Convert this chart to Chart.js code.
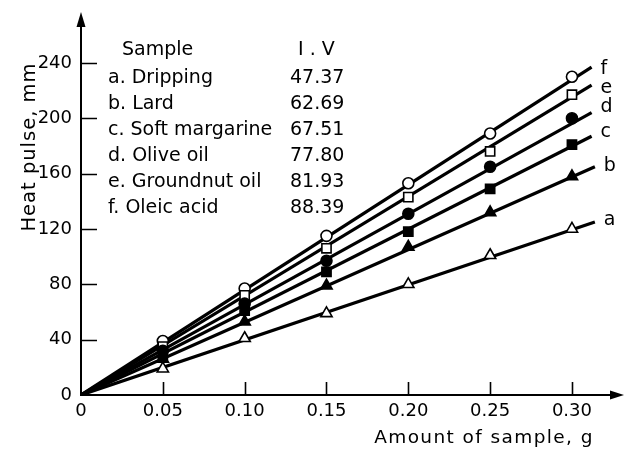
<!DOCTYPE html>
<html>
<head>
<meta charset="utf-8">
<script src="https://cdn.jsdelivr.net/npm/chart.js@4.4.0/dist/chart.umd.min.js"></script>
<style>
  html, body { margin: 0; background: #fff; }
  canvas { display: block; }
</style>
</head>
<body>
<canvas id="chart" width="626" height="452"></canvas>
<script>
const amounts = [0.05, 0.10, 0.15, 0.20, 0.25, 0.30]
const letters = ['a', 'b', 'c', 'd', 'e', 'f']
const samples = ['Dripping', 'Lard', 'Soft margarine', 'Olive oil', 'Groundnut oil', 'Oleic acid']
const iodineValues = ['47.37', '62.69', '67.51', '77.80', '81.93', '88.39']

// heat pulse (mm) read at each amount of sample
const dripping = [19, 41, 59, 80, 101, 120]
const lard = [26, 53, 79, 107, 132, 158]
const softMargarine = [29, 61, 89, 118, 149, 181]
const oliveOil = [32, 66, 97, 131, 165, 200]
const groundnutOil = [35, 72, 106, 143, 176, 217]
const oleicAcid = [39, 77, 115, 153, 189, 230]

// the drawn lines are straight fits from the origin to these ends
const lineEndX = [0.314, 0.314, 0.312, 0.312, 0.312, 0.312]
const lineEndY = [125, 165, 187, 204, 224, 237]

const xTicks = [0, 0.05, 0.10, 0.15, 0.20, 0.25, 0.30]
const yTicks = [0, 40, 80, 120, 160, 200, 240]

const series = [dripping, lard, softMargarine, oliveOil, groundnutOil, oleicAcid]
const markers = [
  { style: 'triangle', fill: '#fff', r: 6.5 },
  { style: 'triangle', fill: '#000', r: 6.5 },
  { style: 'rect', fill: '#000', r: 6.5 },
  { style: 'circle', fill: '#000', r: 5.5 },
  { style: 'rect', fill: '#fff', r: 6.5 },
  { style: 'circle', fill: '#fff', r: 5.5 },
]
const letterDy = [3, 4, 1, -1, 8, 7]

const FONT = '"DejaVu Sans", sans-serif'

const markerSets = series.map((vals, i) => ({
  label: letters[i],
  data: amounts.map((x, j) => ({ x, y: vals[j] })),
  showLine: false,
  pointStyle: markers[i].style,
  pointRadius: markers[i].r,
  backgroundColor: markers[i].fill,
  borderColor: '#000',
  borderWidth: 1.6,
  order: 0,
}))

const lineSets = series.map((_, i) => ({
  label: letters[i] + ' fit',
  data: [{ x: 0, y: 0 }, { x: lineEndX[i], y: lineEndY[i] }],
  showLine: true,
  pointRadius: 0,
  borderColor: '#000',
  borderWidth: 3.2,
  order: 1,
}))

const decor = {
  id: 'decor',
  afterDraw(chart) {
    const { ctx, chartArea: area, scales: { x, y } } = chart
    ctx.save()
    ctx.fillStyle = '#000'
    ctx.strokeStyle = '#000'

    // inward tick marks
    ctx.lineWidth = 1.6
    ctx.beginPath()
    xTicks.slice(1).forEach(v => {
      const px = Math.round(x.getPixelForValue(v)) + 0.5
      ctx.moveTo(px, area.bottom)
      ctx.lineTo(px, area.bottom - 13)
    })
    yTicks.slice(1).forEach(v => {
      const py = Math.round(y.getPixelForValue(v)) + 0.5
      ctx.moveTo(area.left, py)
      ctx.lineTo(area.left + 16, py)
    })
    ctx.stroke()

    // arrow heads
    ctx.beginPath()
    ctx.moveTo(area.left, 12)
    ctx.lineTo(area.left - 4.5, 27)
    ctx.lineTo(area.left + 4.5, 27)
    ctx.closePath()
    ctx.fill()
    ctx.beginPath()
    ctx.moveTo(624, area.bottom)
    ctx.lineTo(610, area.bottom - 4.5)
    ctx.lineTo(610, area.bottom + 4.5)
    ctx.closePath()
    ctx.fill()

    // axis titles
    ctx.textAlign = 'center'
    ctx.textBaseline = 'middle'
    ctx.font = '18.5px ' + FONT
    ctx.letterSpacing = '1.4px'
    ctx.fillText('Amount of sample, g', 484, 438)
    ctx.save()
    ctx.translate(30, 147)
    ctx.rotate(-Math.PI / 2)
    ctx.font = '19.5px ' + FONT
    ctx.letterSpacing = '1px'
    ctx.fillText('Heat pulse, mm', 0, 0)
    ctx.restore()
    ctx.letterSpacing = '0px'

    // sample table
    ctx.font = '19px ' + FONT
    ctx.textAlign = 'left'
    ctx.textBaseline = 'alphabetic'
    ctx.fillText('Sample', 122, 55)
    ctx.fillText('I . V', 298, 55)
    samples.forEach((name, i) => {
      const base = 83 + 26 * i
      ctx.fillText(letters[i] + '. ' + name, 108, base)
      ctx.fillText(iodineValues[i], 290, base)
    })

    // series letters at the line ends
    letters.forEach((l, i) => {
      const px = x.getPixelForValue(lineEndX[i])
      const py = y.getPixelForValue(lineEndY[i])
      ctx.fillText(l, px + 9, py + letterDy[i])
    })
    ctx.restore()
  },
}

new Chart(document.getElementById('chart'), {
  type: 'scatter',
  data: { datasets: [...markerSets, ...lineSets] },
  options: {
    responsive: false,
    animation: false,
    layout: { padding: { top: 20, right: 11, left: 0, bottom: 0 } },
    plugins: { legend: { display: false }, tooltip: { enabled: false } },
    scales: {
      x: {
        type: 'linear',
        min: 0,
        max: 0.3263,
        grid: { display: false, drawTicks: false },
        border: { display: true, color: '#000', width: 2 },
        ticks: {
          color: '#000',
          font: { family: FONT, size: 18 },
          padding: 6,
          maxRotation: 0,
          callback: v => (v === 0 ? '0' : v.toFixed(2)),
        },
        afterBuildTicks: s => { s.ticks = xTicks.map(value => ({ value })) },
        afterFit: s => { s.height = 57 },
      },
      y: {
        min: 0,
        max: 271,
        grid: { display: false, drawTicks: false },
        border: { display: true, color: '#000', width: 2 },
        ticks: {
          color: '#000',
          font: { family: FONT, size: 18 },
          padding: 9,
        },
        afterBuildTicks: s => { s.ticks = yTicks.map(value => ({ value })) },
        afterFit: s => { s.width = 81 },
      },
    },
  },
  plugins: [decor],
})
</script>
</body>
</html>
